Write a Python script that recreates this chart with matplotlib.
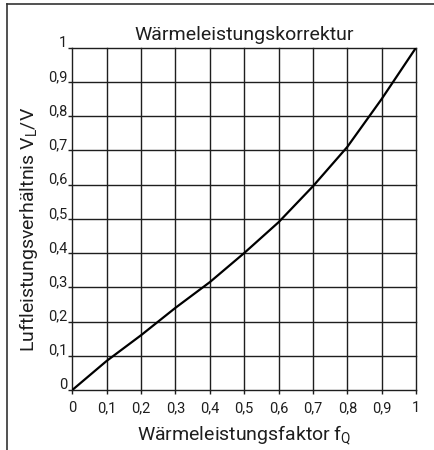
import matplotlib
matplotlib.use("Agg")
import matplotlib.pyplot as plt
import matplotlib.transforms as mtransforms
from matplotlib.lines import Line2D

# Heat-output correction curve
faktor = [0.0, 0.1, 0.2, 0.3, 0.4, 0.5, 0.6, 0.7, 0.8, 0.9, 1.0]
verhaeltnis = [0.0, 0.085, 0.16, 0.24, 0.315, 0.40, 0.49, 0.595, 0.71, 0.85, 1.0]
ticks = [0, 0.1, 0.2, 0.3, 0.4, 0.5, 0.6, 0.7, 0.8, 0.9, 1]
tick_labels = ["0", "0,1", "0,2", "0,3", "0,4", "0,5", "0,6", "0,7", "0,8", "0,9", "1"]

plt.rcParams["font.family"] = ["Roboto", "DejaVu Sans"]
plt.rcParams["mathtext.fontset"] = "custom"
plt.rcParams["mathtext.rm"] = "Roboto"

ink = "#1e1e1e"
fig = plt.figure(figsize=(4.34, 4.5), dpi=100)
W, H = 434, 450
ax = fig.add_axes([72.3 / W, 1 - 390 / H, (416 - 72.3) / W, (390 - 47.7) / H])

ax.plot(faktor, verhaeltnis, color="black", lw=1.6, solid_capstyle="round", zorder=3)
ax.set_xlim(0, 1)
ax.set_ylim(0, 1)
for t in ticks:
    ax.axhline(t, color=ink, lw=1.0, zorder=1, clip_on=False)
    ax.axvline(t, color=ink, lw=1.0, zorder=1, clip_on=False)
for s in ax.spines.values():
    s.set_visible(False)

ax.set_xticks(ticks)
ax.set_xticklabels(tick_labels)
ax.set_yticks(ticks)
ax.set_yticklabels(tick_labels)
ax.tick_params(axis="both", direction="out", length=3, width=1.0, color=ink,
               labelsize=10.5, labelcolor=ink)
ax.tick_params(axis="x", pad=5)
ax.tick_params(axis="y", pad=0.5)
lift = mtransforms.ScaledTranslation(0, 1.0 / 100, fig.dpi_scale_trans)
for lab in ax.get_yticklabels():
    lab.set_verticalalignment("baseline")
    lab.set_transform(lab.get_transform() + lift)

ax.set_title("Wärmeleistungskorrektur", fontsize=14, color=ink, pad=5.5)
ax.set_xlabel("Wärmeleistungsfaktor f$_\\mathregular{Q}$", fontsize=14, color=ink, labelpad=6)
ax.set_ylabel("Luftleistungsverhältnis V$_\\mathregular{L}$/V", fontsize=14, color=ink)
ax.yaxis.set_label_coords(-0.094, 0.47)

# Outer frame (top and left edges)
fig.add_artist(Line2D([7 / W, 7 / W], [0, 1 - 4 / H], color="#333333", lw=1.2, transform=fig.transFigure))
fig.add_artist(Line2D([7 / W, 1], [1 - 4 / H, 1 - 4 / H], color="#333333", lw=1.2, transform=fig.transFigure))

fig.savefig("out.png", dpi=100, facecolor="white")
